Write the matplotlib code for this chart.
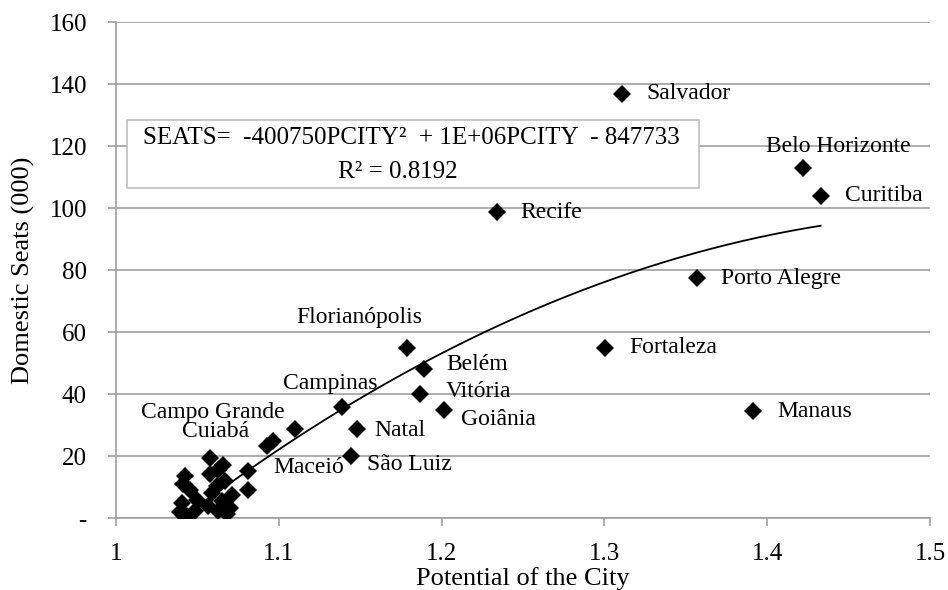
import matplotlib
matplotlib.use('Agg')
import matplotlib.pyplot as plt
from matplotlib.patches import Rectangle
import numpy as np

plt.rcParams['font.family'] = ['Liberation Serif', 'DejaVu Serif']

# labelled cities
city_names = ['Salvador', 'Belo Horizonte', 'Curitiba', 'Recife', 'Porto Alegre',
              'Fortaleza', 'Manaus', 'Florianópolis', 'Belém', 'Vitória', 'Goiânia',
              'Campinas', 'Natal', 'São Luiz', 'Maceió', 'Cuiabá', 'Campo Grande']
city_pcity = [1.3108, 1.4218, 1.4328, 1.2338, 1.3567,
              1.3004, 1.3915, 1.1785, 1.1894, 1.1867, 1.2017,
              1.1388, 1.1478, 1.1441, 1.0813, 1.0577, 1.0424]
city_seats = [136.8, 112.9, 104.0, 98.7, 77.5,
              55.0, 34.5, 55.0, 48.2, 40.2, 35.1,
              35.8, 28.9, 20.1, 15.2, 19.5, 13.6]

# unlabelled cities (small airports)
other_pcity = [1.110, 1.0966, 1.0926, 1.0813, 1.0628, 1.066, 1.067, 1.0455, 1.0403,
               1.0393, 1.0485, 1.0567, 1.0628, 1.070, 1.071, 1.0588, 1.0434, 1.0577,
               1.062, 1.065, 1.068, 1.050, 1.0413]
other_seats = [28.9, 24.9, 23.3, 9.3, 15.5, 17.2, 12.0, 9.3, 5.0,
               2.0, 2.3, 3.9, 2.3, 3.4, 7.7, 8.3, 0.8, 14.2,
               10.4, 5.6, 1.5, 6.0, 11.0]

# polynomial trendline coefficients (seats in thousands)
trend_coef = [-400.75, 1231.7, -847.733]

# label offsets in pixels (dx, dy, ha)
label_pos = {
    'Belo Horizonte': (36, 22, 'center'),
    'Florianópolis': (-47, 30, 'center'),
    'Campinas': (-12, 24, 'center'),
    'Cuiabá': (6, 26, 'center'),
    'Campo Grande': (28, 64, 'center'),
    'Goiânia': (17, -10, 'left'),
    'São Luiz': (16, -8, 'left'),
    'Natal': (18, -2, 'left'),
    'Belém': (22, 4, 'left'),
    'Vitória': (26, 2, 'left'),
    'Maceió': (25, 4, 'left'),
}

fig = plt.figure(figsize=(9.48, 5.90), dpi=100)
ax = fig.add_axes([0.1224, 0.1212, 0.8586, 0.8415])

all_x = city_pcity + other_pcity
all_y = city_seats + other_seats
ax.plot(all_x, all_y, 'D', color='black', markersize=9, markeredgewidth=0, zorder=3)

xs = np.linspace(min(all_x), max(all_x), 200)
ax.plot(xs, np.polyval(trend_coef, xs), color='black', linewidth=1.3, zorder=4)

for name, x, y in zip(city_names, city_pcity, city_seats):
    dx, dy, ha = label_pos.get(name, (24, 0, 'left'))
    ax.annotate(name, (x, y), xytext=(dx, dy), textcoords='offset pixels',
                ha=ha, va='center', fontsize=17, zorder=5)

# equation box
ax.add_patch(Rectangle((0.0139, 0.6657), 0.702, 0.137, transform=ax.transAxes,
                       facecolor='white', edgecolor='#bfbfbf', linewidth=1.2, zorder=6))
ax.text(0.363, 0.766, 'SEATS=  -400750PCITY²  + 1E+06PCITY  - 847733',
        transform=ax.transAxes, ha='center', va='center', fontsize=18, zorder=7)
ax.text(0.346, 0.698, 'R² = 0.8192',
        transform=ax.transAxes, ha='center', va='center', fontsize=18, zorder=7)

ax.set_xlim(1, 1.5)
ax.set_ylim(0, 160)
ax.set_xticks([1, 1.1, 1.2, 1.3, 1.4, 1.5])
ax.set_xticklabels(['1', '1.1', '1.2', '1.3', '1.4', '1.5'])
ax.set_yticks(range(0, 161, 20))
ax.set_yticklabels(['-'] + [str(v) for v in range(20, 161, 20)])
ax.tick_params(labelsize=18, color='#a0a0a0', length=6, width=1.2)
ax.tick_params(axis='y', pad=15)
ax.tick_params(axis='x', pad=12)

ax.grid(axis='y', color='#a0a0a0', linewidth=1.2)
ax.set_axisbelow(True)
for s in ['top', 'right']:
    ax.spines[s].set_visible(False)
for s in ['left', 'bottom']:
    ax.spines[s].set_color('#a0a0a0')
    ax.spines[s].set_linewidth(1.2)

ax.set_xlabel('Potential of the City', fontsize=19, labelpad=1)
ax.set_ylabel('Domestic Seats (000)', fontsize=19, labelpad=10)

fig.savefig('out.png', dpi=100)
